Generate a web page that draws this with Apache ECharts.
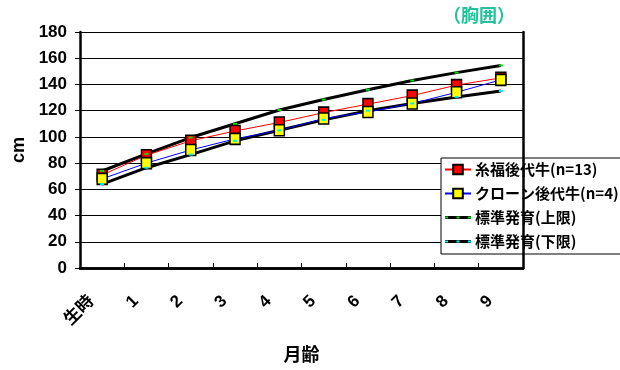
<!DOCTYPE html>
<html>
<head>
<meta charset="utf-8">
<script src="https://cdn.jsdelivr.net/npm/echarts@6/dist/echarts.min.js"></script>
<style>
  html, body { margin: 0; padding: 0; background: #fff; }
  #chart { width: 620px; height: 370px; }
</style>
</head>
<body>
<div id="chart"></div>
<script>
// 月齢ごとの胸囲 (cm)
const months = ['生時', '1', '2', '3', '4', '5', '6', '7', '8', '9'];
const itofukuCalves = [71, 86, 97, 104.5, 111, 118.5, 125, 131.5, 139.5, 145];
const cloneCalves = [68, 80, 90, 98.5, 105, 114, 119, 125.5, 134, 143.5];
const standardUpper = [74, 87, 99.5, 110, 120.5, 128.5, 136, 143, 149, 154.5];
const standardLower = [64, 76.5, 86.5, 97, 105, 113, 120, 125.5, 130.5, 135];
const yTicks = { min: 0, max: 180, step: 20 };

const seriesNames = ['糸福後代牛(n=13)', 'クローン後代牛(n=4)', '標準発育(上限)', '標準発育(下限)'];

const LATIN = "'Liberation Sans', 'Noto Sans CJK JP', sans-serif";
const CJK = "'Noto Sans CJK JP', 'Liberation Sans', sans-serif";
const frame = { show: true, lineStyle: { color: '#000', width: 2.5 } };

const UPPER_DOT = '#00DD00';
const LOWER_DOT = '#00EEEE';

// 凡例用アイコン：太い黒線に小さな点マーカー
function standardIcon(dotColor) {
  const svg =
    '<svg xmlns="http://www.w3.org/2000/svg" width="26" height="12" viewBox="0 0 26 12">' +
    '<rect x="0" y="4.5" width="26" height="3" fill="#000"/>' +
    '<rect x="0" y="5" width="3" height="2" fill="' + dotColor + '"/>' +
    '<rect x="11.5" y="5" width="3" height="2" fill="' + dotColor + '"/>' +
    '<rect x="23" y="5" width="3" height="2" fill="' + dotColor + '"/>' +
    '</svg>';
  return 'image://data:image/svg+xml;charset=utf-8,' + encodeURIComponent(svg);
}

const chart = echarts.init(document.getElementById('chart'), null, { renderer: 'canvas' });

chart.setOption({
  animation: false,
  backgroundColor: '#fff',
  title: {
    text: '（胸囲）',
    left: 438,
    top: 1,
    textStyle: { color: '#22C39A', fontSize: 18, fontWeight: 'bold', fontFamily: CJK }
  },
  grid: { left: 80, right: 97, top: 32, bottom: 102, containLabel: false },
  legend: {
    data: [
      { name: seriesNames[0] },
      { name: seriesNames[1] },
      { name: seriesNames[2], icon: standardIcon(UPPER_DOT) },
      { name: seriesNames[3], icon: standardIcon(LOWER_DOT) }
    ],
    orient: 'vertical',
    left: 441,
    top: 158,
    z: 4,
    padding: [4, 16, 5, 3],
    itemGap: 9,
    itemWidth: 26,
    itemHeight: 12,
    backgroundColor: '#fff',
    borderColor: '#000',
    borderWidth: 1,
    borderRadius: 0,
    textStyle: { color: '#000', fontSize: 15, fontWeight: 'bold', fontFamily: CJK, padding: [0, 0, 0, -1] }
  },
  xAxis: [
    {
      type: 'category',
      data: months,
      boundaryGap: true,
      axisLine: frame,
      axisTick: { show: true, inside: true, length: 5, interval: 0, lineStyle: { color: '#000', width: 1 } },
      axisLabel: {
        interval: 0,
        rotate: 45,
        margin: 20,
        padding: [0, 15, 0, 0],
        color: '#000',
        fontSize: 17,
        fontWeight: 'bold',
        fontFamily: LATIN
      },
      name: '月齢',
      nameLocation: 'middle',
      nameGap: 77,
      nameTextStyle: { color: '#000', fontSize: 18, fontWeight: 'bold', fontFamily: CJK },
      splitLine: { show: false }
    },
    {
      type: 'category',
      data: months,
      position: 'top',
      axisLine: frame,
      axisTick: { show: false },
      axisLabel: { show: false }
    }
  ],
  yAxis: [
    {
      type: 'value',
      min: yTicks.min,
      max: yTicks.max,
      interval: yTicks.step,
      axisLine: frame,
      axisTick: { show: true, inside: false, length: 5, lineStyle: { color: '#000', width: 1 } },
      axisLabel: { margin: 13, color: '#000', fontSize: 17, fontWeight: 'bold', fontFamily: LATIN },
      splitLine: { show: true, lineStyle: { color: '#000', width: 1 } },
      name: 'cm',
      nameLocation: 'middle',
      nameRotate: 90,
      nameGap: 45,
      nameTextStyle: { color: '#000', fontSize: 18, fontWeight: 'bold', fontFamily: LATIN }
    },
    {
      type: 'value',
      position: 'right',
      min: yTicks.min,
      max: yTicks.max,
      interval: yTicks.step,
      z: 6,
      axisLine: frame,
      axisTick: { show: false },
      axisLabel: { show: false },
      splitLine: { show: false }
    }
  ],
  series: [
    {
      name: seriesNames[0],
      type: 'line',
      data: itofukuCalves,
      z: 3,
      symbol: 'rect',
      symbolSize: [10, 11],
      lineStyle: { color: '#FF0000', width: 1 },
      itemStyle: { color: '#FF0000', borderColor: '#000', borderWidth: 1.5 }
    },
    {
      name: seriesNames[1],
      type: 'line',
      data: cloneCalves,
      z: 3,
      symbol: 'rect',
      symbolSize: [10, 11],
      lineStyle: { color: '#0000FF', width: 1 },
      itemStyle: { color: '#FFFF00', borderColor: '#000', borderWidth: 1.5 }
    },
    {
      name: seriesNames[2],
      type: 'line',
      data: standardUpper,
      z: 2,
      symbol: 'none',
      lineStyle: { color: '#000', width: 3 },
      itemStyle: { color: '#000' }
    },
    {
      name: seriesNames[3],
      type: 'line',
      data: standardLower,
      z: 2,
      symbol: 'none',
      lineStyle: { color: '#000', width: 3 },
      itemStyle: { color: '#000' }
    },
    // 標準発育の点マーカー（四角マーカーの上に描く）
    {
      name: '上限点',
      type: 'line',
      data: standardUpper,
      z: 5,
      silent: true,
      symbol: 'rect',
      symbolSize: [4, 2],
      lineStyle: { opacity: 0 },
      itemStyle: { color: UPPER_DOT }
    },
    {
      name: '下限点',
      type: 'line',
      data: standardLower,
      z: 5,
      silent: true,
      symbol: 'rect',
      symbolSize: [4, 2],
      lineStyle: { opacity: 0 },
      itemStyle: { color: LOWER_DOT }
    }
  ]
});
</script>
</body>
</html>
